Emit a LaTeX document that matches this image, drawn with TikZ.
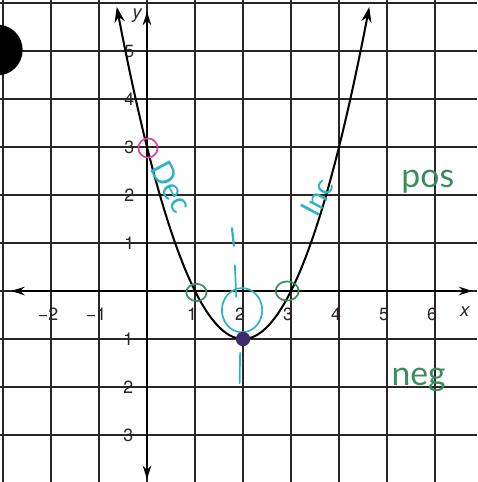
\documentclass[tikz,border=0pt]{standalone}
\usepackage{fontspec}
\newfontfamily\lab{TeX Gyre Heros}
\newfontfamily\hand{Lato}
\usetikzlibrary{arrows.meta}
\definecolor{gridc}{HTML}{2B2525}
\definecolor{cyanink}{HTML}{2DB2C6}
\definecolor{greenink}{HTML}{3A8C5C}
\definecolor{pinkink}{HTML}{E0409E}
\definecolor{purpledot}{HTML}{3D2B6B}
\begin{document}
\begin{tikzpicture}[x=1cm,y=1cm,
  gridline/.style={gridc, line width=1.15pt},
  axisline/.style={black, line width=1.4pt, {Stealth[length=8pt,width=5pt]}-{Stealth[length=8pt,width=5pt]}},
  curveline/.style={black, line width=1.2pt, {Stealth[length=9pt,width=6pt]}-{Stealth[length=9pt,width=6pt]}},
  tick/.style={font=\lab\fontsize{10.5}{12}\selectfont, inner sep=0pt, text=gridc},
  hw/.style={font=\hand\fontsize{20}{24}\selectfont, inner sep=0pt},
  ink/.style={line width=1pt, line cap=round}]
\useasboundingbox (-3.0625,-3.979) rectangle (6.875,6.0625);
\clip (-3.0625,-3.979) rectangle (6.875,6.0625);
\fill[white] (-3.0625,-3.979) rectangle (6.875,6.0625);
% grid
\foreach \x in {-3,...,6} \draw[gridline] (\x,-4.2) -- (\x,6.3);
\foreach \y in {-4,...,6} \draw[gridline] (-3.2,\y) -- (7,\y);
% black dot
\fill[black] (-3.12,5.02) circle (0.53);
% axes
\coordinate (xl) at (-2.83,0);
\coordinate (xr) at (6.78,0);
\coordinate (yb) at (0,-3.92);
\coordinate (yt) at (0,5.82);
\draw[axisline] (xl) -- (xr);
\draw[axisline] (yb) -- (yt);
% tick labels
\foreach \x/\t in {-2/−2,-1/−1,1/1,2/2,3/3,4/4,5/5,6/6}
  \node[tick] (tx\x) at (\x-0.06,-0.48) {\t};
\foreach \y in {1,...,5}
  \node[tick] (ty\y) at (-0.37,\y) {\y};
\foreach \y in {1,2,3}
  \node[tick] (tyn\y) at (-0.39,-\y) {\y};
\node[tick, font=\lab\itshape\fontsize{11}{12}\selectfont] (xlab) at (6.62,-0.42) {x};
\node[tick, font=\lab\itshape\fontsize{11}{12}\selectfont] (ylab) at (-0.21,5.73) {y};
% parabola
\draw[curveline] plot[domain=-0.63:4.63, samples=100] (\x,{(\x-2)^2-1});
% annotations
\draw[pinkink, ink] (0.02,2.98) circle (0.2);
\draw[greenink, ink] (1.03,-0.03) ellipse (0.21 and 0.18);
\draw[greenink, ink] (2.92,0) ellipse (0.24 and 0.2);
% cyan axis of symmetry
\coordinate (s1a) at (1.77,1.31); \coordinate (s1b) at (1.81,0.94);
\coordinate (s2a) at (1.83,0.54); \coordinate (s2b) at (1.86,-0.12);
\coordinate (s3a) at (1.94,-1.29); \coordinate (s3b) at (1.93,-1.92);
\draw[cyanink, ink, line width=1.3pt] (s1a) -- (s1b);
\draw[cyanink, ink] (s2a) -- (s2b);
\draw[cyanink, ink] (s3a) -- (s3b);
\draw[cyanink, ink] (1.98,-0.4) ellipse (0.42 and 0.46);
% vertex
\fill[purpledot] (2,-1) circle (0.15);
% handwritten words
\node[hw, text=cyanink, rotate=-62, font=\hand\fontsize{18}{22}\selectfont] (dec) at (0.52,2.17) {Dec};
\node[hw, text=cyanink, rotate=62, font=\hand\fontsize{17}{20}\selectfont] (inc) at (3.55,1.95) {Inc};
\node[hw, text=greenink] (pos) at (5.85,2.27) {pos};
\node[hw, text=greenink] (neg) at (5.66,-1.86) {neg};
\end{tikzpicture}
\end{document}
